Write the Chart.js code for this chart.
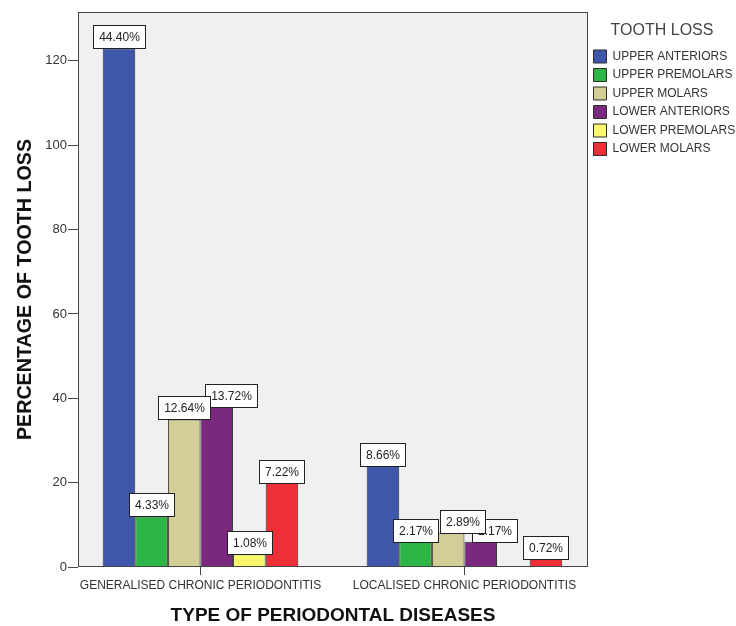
<!DOCTYPE html>
<html>
<head>
<meta charset="utf-8">
<script src="https://cdn.jsdelivr.net/npm/chart.js@4"></script>
<style>
  body { margin: 0; background: #fff; }
</style>
</head>
<body>
<canvas id="myChart" width="736" height="626"></canvas>
<script>
// categories on the x axis
const categories = ['GENERALISED CHRONIC PERIODONTITIS', 'LOCALISED CHRONIC PERIODONTITIS'];

// legend / series names
const seriesNames = ['UPPER ANTERIORS', 'UPPER PREMOLARS', 'UPPER MOLARS', 'LOWER ANTERIORS', 'LOWER PREMOLARS', 'LOWER MOLARS'];

// bar heights (counts) per series
const upperAnteriors = [123, 24];
const upperPremolars = [12, 6];
const upperMolars = [35, 8];
const lowerAnteriors = [38, 6];
const lowerPremolars = [3, null];
const lowerMolars = [20, 2];

// percentage labels per series
const upperAnteriorsPct = [44.40, 8.66];
const upperPremolarsPct = [4.33, 2.17];
const upperMolarsPct = [12.64, 2.89];
const lowerAnteriorsPct = [13.72, 2.17];
const lowerPremolarsPct = [1.08, null];
const lowerMolarsPct = [7.22, 0.72];

// y axis ticks
const yTicks = [0, 20, 40, 60, 80, 100, 120];

const seriesValues = [upperAnteriors, upperPremolars, upperMolars, lowerAnteriors, lowerPremolars, lowerMolars];
const seriesPct = [upperAnteriorsPct, upperPremolarsPct, upperMolarsPct, lowerAnteriorsPct, lowerPremolarsPct, lowerMolarsPct];
const colors = ['#3e57ab', '#2db548', '#d3cd96', '#7a297e', '#f9f86c', '#ee2f38'];

const FONT = '"Liberation Sans", Arial, sans-serif';
Chart.defaults.font.family = FONT;

// grey plot background + frame round the chart area
const plotFrame = {
  id: 'plotFrame',
  beforeDraw(chart) {
    const { ctx, chartArea: { left, top, width, height } } = chart;
    ctx.save();
    ctx.fillStyle = '#fff';
    ctx.fillRect(0, 0, chart.width, chart.height);
    ctx.fillStyle = '#f0f0f0';
    ctx.fillRect(left, top, width, height);
    ctx.restore();
  },
  afterDatasetsDraw(chart) {
    const { ctx, chartArea: { left, top, width, height } } = chart;
    ctx.save();
    ctx.strokeStyle = '#444';
    ctx.lineWidth = 1;
    ctx.strokeRect(left + 0.5, top + 0.5, width - 1, height - 1);
    ctx.restore();
  }
};

// boxed percentage labels above the bars, nudged right when they collide
const labelBoxes = {
  id: 'labelBoxes',
  afterDatasetsDraw(chart) {
    const ctx = chart.ctx;
    ctx.save();
    ctx.font = '12px ' + FONT;
    const groups = categories.map(() => []);
    chart.data.datasets.forEach((ds, i) => {
      const meta = chart.getDatasetMeta(i);
      meta.data.forEach((bar, j) => {
        const pct = seriesPct[i][j];
        if (pct == null || seriesValues[i][j] == null) return;
        const text = pct.toFixed(2) + '%';
        const w = Math.round(ctx.measureText(text).width) + 11;
        const h = 23;
        let x = bar.x - w / 2;
        const y = bar.y - h;
        const prev = groups[j][groups[j].length - 1];
        if (prev && x < prev.x + prev.w && x + w > prev.x && y < prev.y + prev.h && y + h > prev.y) {
          x += 14;
        }
        groups[j].push({ x, y, w, h, text });
      });
    });
    ctx.textAlign = 'center';
    ctx.textBaseline = 'middle';
    groups.forEach(g => {
      g.slice().reverse().forEach(b => {
        const bx = Math.round(b.x) + 0.5;
        const by = Math.round(b.y) + 0.5;
        ctx.fillStyle = '#fff';
        ctx.fillRect(bx, by, b.w, b.h);
        ctx.strokeStyle = '#222';
        ctx.lineWidth = 1;
        ctx.strokeRect(bx, by, b.w, b.h);
        ctx.fillStyle = '#222';
        ctx.fillText(b.text, bx + b.w / 2, by + b.h / 2 + 0.5);
      });
    });
    ctx.restore();
  }
};

const chartData = {
  datasets: seriesNames.map((name, i) => ({
    label: name,
    data: seriesValues[i].map((v, j) => ({ x: j, y: v })),
    backgroundColor: colors[i],
    borderColor: '#2b2b2b',
    borderWidth: 1,
    barPercentage: 1,
    categoryPercentage: 0.741
  }))
};

const chartOptions = {
  responsive: false,
  animation: false,
  layout: { padding: { top: 12, left: 0, right: 0, bottom: 0 } },
  scales: {
    x: {
      type: 'linear',
      min: -0.464,
      max: 1.468,
      offset: false,
      afterBuildTicks: s => { s.ticks = categories.map((c, i) => ({ value: i })); },
      afterFit: s => { s.height = 59; },
      grid: { drawOnChartArea: false, drawTicks: true, tickLength: 8, color: '#444', tickColor: '#444', offset: false },
      border: { display: false },
      ticks: {
        autoSkip: false,
        maxRotation: 0,
        padding: 3,
        color: '#333',
        font: { size: 12 },
        callback: v => categories[v]
      },
      title: {
        display: true,
        text: 'TYPE OF PERIODONTAL DISEASES',
        color: '#111',
        font: { size: 19, weight: 'bold', lineHeight: 1 },
        padding: { top: 0, bottom: 0.5 }
      }
    },
    y: {
      min: 0,
      max: 131.6,
      afterBuildTicks: s => { s.ticks = yTicks.map(v => ({ value: v })); },
      afterFit: s => { s.width = 78; },
      grid: { drawOnChartArea: false, drawTicks: true, tickLength: 10, color: '#444', tickColor: '#444' },
      border: { display: false },
      ticks: { padding: 1, color: '#333', font: { size: 13 } },
      title: {
        display: true,
        text: 'PERCENTAGE OF TOOTH LOSS',
        color: '#111',
        font: { size: 19.7, weight: 'bold', lineHeight: 1 },
        padding: { top: 15.5, bottom: 0 }
      }
    }
  },
  plugins: {
    tooltip: { enabled: false },
    legend: {
      position: 'right',
      align: 'start',
      maxWidth: 148,
      title: {
        display: true,
        text: 'TOOTH LOSS',
        color: '#444',
        font: { size: 16 },
        padding: { top: 10.5, bottom: 2.8 }
      },
      labels: {
        boxWidth: 13,
        boxHeight: 13,
        padding: 5.5,
        color: '#333',
        font: { size: 12 }
      }
    }
  }
};

const chart = new Chart(document.getElementById('myChart'), {
  type: 'bar',
  data: chartData,
  options: chartOptions,
  plugins: [plotFrame, labelBoxes]
});
</script>
</body>
</html>
